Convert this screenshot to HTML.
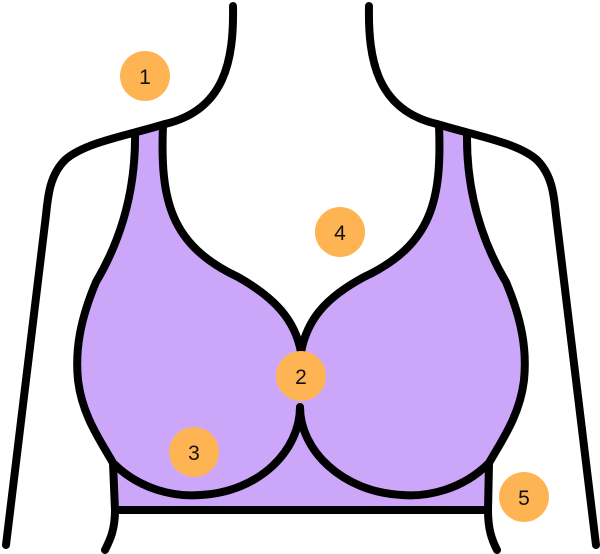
<!DOCTYPE html>
<html><head><meta charset="utf-8"><style>
html,body{margin:0;padding:0;background:#fff;}
svg{display:block;}
text{font-family:"Liberation Sans",sans-serif;font-size:21px;fill:#111;text-anchor:middle;}
</style></head><body>
<svg width="600" height="554" viewBox="0 0 600 554" xmlns="http://www.w3.org/2000/svg">
<path d="M135,133 L163,125 C160,200 170,245 238,277 C275,298 295,320 301,352 C307,320 325,298 364,277 C432,245 442,200 439,125 L467,133 C466,200 487,250 506,282 C522,320 527,350 524,380 C520,415 502,440 489,463 L488,510 L115,510 L113,463 C100,440 82,415 78,380 C75,350 80,320 96,282 C115,250 136,200 135,133 Z" fill="#CBA6F9"/>
<g fill="none" stroke="#000" stroke-width="8" stroke-linecap="round" stroke-linejoin="round">
<path d="M233,6 C234,60 225,110 165,124 C130,135 85,142 65,160 C50,175 48,195 46,215 L6,545"/>
<path d="M369,6 C368,60 377,110 437,124 C472,135 517,142 537,160 C552,175 554,195 556,215 L596,545"/>
<path d="M135,133 C136,200 115,250 96,282 C80,320 75,350 78,380 C82,415 100,440 113,463"/>
<path d="M467,133 C466,200 487,250 506,282 C522,320 527,350 524,380 C520,415 502,440 489,463"/>
<path d="M163,125 C160,200 170,245 238,277 C275,298 295,320 301,352 C307,320 325,298 364,277 C432,245 442,200 439,125"/>
<path d="M113,463 C140,490 175,497 200,495 C260,492 300,450 300,407 C300,450 342,492 402,495 C427,497 462,490 489,463"/>
<path d="M113,463 L115,510 L488,510 L489,463"/>
<path d="M115,510 C115,530 110,540 105,550"/>
<path d="M488,510 C488,530 492,540 497,550"/>
</g>
<g fill="#FFB454">
<circle cx="145" cy="76" r="25"/>
<circle cx="340" cy="232" r="25"/>
<circle cx="301" cy="376" r="25"/>
<circle cx="194" cy="452" r="25"/>
<circle cx="524" cy="497" r="25"/>
</g>
<text x="145" y="84">1</text>
<text x="340" y="240">4</text>
<text x="301" y="384">2</text>
<text x="194" y="460">3</text>
<text x="524" y="505">5</text>
</svg>
</body></html>
